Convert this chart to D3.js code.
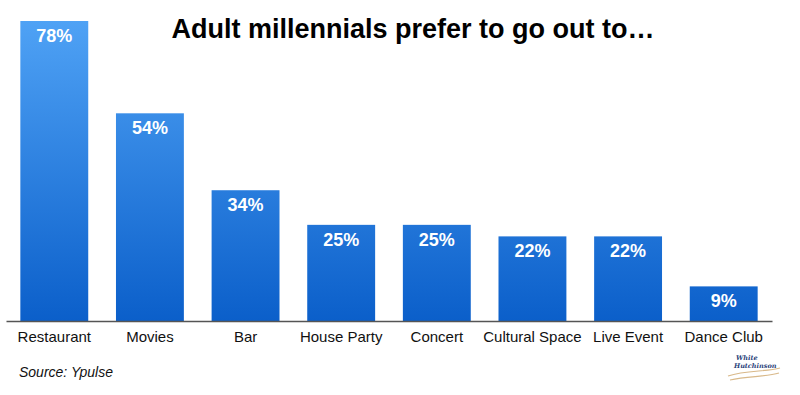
<!DOCTYPE html>
<html><head><meta charset="utf-8">
<script src="https://cdn.jsdelivr.net/npm/d3@7"></script>
<style>body{margin:0;background:#fff}svg{display:block}</style>
</head><body>
<svg id="c" width="800" height="395"></svg>
<script>
const categories = ["Restaurant","Movies","Bar","House Party","Concert","Cultural Space","Live Event","Dance Club"];
const values = [78,54,34,25,25,22,22,9];
const title = "Adult millennials prefer to go out to…";
const source = "Source: Ypulse";

const svg = d3.select("#c");
const font = "'Liberation Sans', Arial, Helvetica, sans-serif";
const x = d3.scaleBand().domain(categories).range([6,772]).paddingInner(0.29).paddingOuter(0.15);
const y = d3.scaleLinear().domain([0,78]).range([321,21]);

const defs = svg.append("defs");
const g = defs.append("linearGradient").attr("id","bg").attr("gradientUnits","userSpaceOnUse")
  .attr("x1",0).attr("y1",y(78)).attr("x2",0).attr("y2",y(0));
g.append("stop").attr("offset","0%").attr("stop-color","#4fa2f5");
g.append("stop").attr("offset","100%").attr("stop-color","#0b5fca");

svg.selectAll("rect.bar").data(values).join("rect").attr("class","bar")
  .attr("x",(d,i)=>x(categories[i])).attr("width",x.bandwidth())
  .attr("y",d=>y(d)).attr("height",d=>y(0)-y(d)).attr("fill","url(#bg)");

svg.selectAll("text.val").data(values).join("text").attr("class","val")
  .attr("x",(d,i)=>x(categories[i])+x.bandwidth()/2).attr("y",d=>y(d)+21)
  .attr("text-anchor","middle").attr("fill","#fff").attr("font-family",font)
  .attr("font-weight","bold").attr("font-size",18).text(d=>d+"%");

const axis = svg.append("g").attr("transform",`translate(0,${y(0)})`)
  .call(d3.axisBottom(x).tickSize(0).tickPadding(10));
axis.select(".domain").attr("stroke","#555").attr("stroke-width",1.5);
axis.selectAll("text").attr("font-family",font).attr("font-size",15).attr("fill","#111");

svg.append("text").attr("x",413).attr("y",38).attr("text-anchor","middle")
  .attr("font-family",font).attr("font-weight","bold").attr("font-size",27).attr("fill","#000").text(title);

svg.append("text").attr("x",19).attr("y",377).attr("font-family",font).attr("font-style","italic")
  .attr("font-size",14).attr("fill","#111").text(source);

// logo
const lg = svg.append("g").attr("transform","translate(736,360)");
lg.append("text").attr("x",0).attr("y",0).attr("font-family","'DejaVu Serif', serif").attr("font-style","italic").attr("font-weight","bold").attr("font-size",6.5).attr("fill","#2b3f7a").text("White");
lg.append("text").attr("x",-2).attr("y",8).attr("font-family","'DejaVu Serif', serif").attr("font-style","italic").attr("font-weight","bold").attr("font-size",6.5).attr("fill","#2b3f7a").text("Hutchinson");
lg.append("path").attr("d","M-8,16 C10,10 30,12 44,8 M-6,20 C12,16 30,17 43,13").attr("stroke","#d9b98a").attr("fill","none").attr("stroke-width",1.2);
</script>
</body></html>
